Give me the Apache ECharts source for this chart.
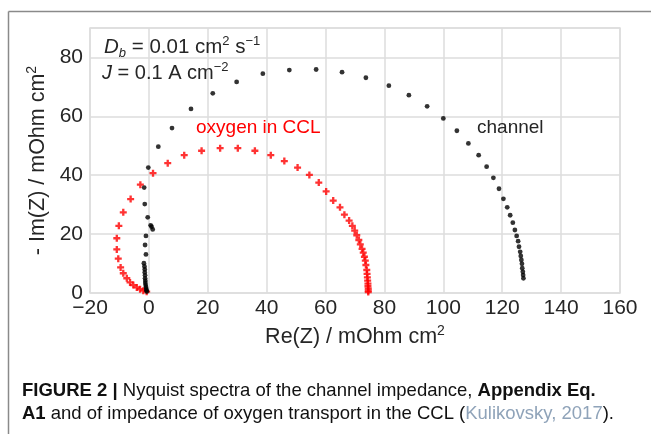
<!DOCTYPE html>
<html><head><meta charset="utf-8">
<script src="https://cdn.jsdelivr.net/npm/echarts@6/dist/echarts.min.js"></script>
<style>html,body{margin:0;padding:0;background:#fff}#c{width:651px;height:434px}</style>
</head><body><div id="c"></div>
<script>
// ---- data ----
const xTickValues = [-20, 0, 20, 40, 60, 80, 100, 120, 140, 160];
const yTickValues = [0, 20, 40, 60, 80];
const yAxisMax = 90;

// channel impedance (black dots)
const channelRe = [-0.7, -0.8, -0.9, -1.0, -1.1, -1.2, -1.2, -1.3, -1.3, -1.4, -1.4, -1.5, -1.7, -1.0, -1.3, -1.0,
  0.9, 1.3, 0.6, -0.4, -1.4, -1.6, -0.2, 3.2, 7.85, 14.3, 21.7, 29.8, 38.7, 47.7, 56.8, 65.6, 73.7, 81.5, 88.3,
  94.5, 100.0, 104.6, 108.5, 112.0, 114.7, 117.0, 118.9, 120.4, 121.7, 122.7, 123.6, 124.3, 124.9, 125.4, 125.7,
  126.1, 126.3, 126.5, 126.7, 126.8, 127.0, 127.1, 127.2];
const channelIm = [0.5, 0.9, 1.4, 2.0, 2.7, 3.4, 4.2, 5.0, 6.0, 7.0, 8.0, 9.0, 10.1, 13.1, 16.3, 19.4,
  22.5, 21.6, 23.0, 25.7, 30.2, 35.8, 42.6, 49.7, 56.0, 62.5, 67.8, 71.7, 74.5, 75.7, 75.9, 75.0, 73.1, 70.4, 67.2,
  63.4, 59.3, 55.1, 50.8, 46.8, 42.9, 39.1, 35.4, 32.0, 29.1, 26.4, 23.9, 21.4, 19.4, 17.6, 15.7,
  14.0, 12.6, 11.2, 9.9, 8.4, 7.2, 6.1, 5.0];

// oxygen transport in the CCL (red plus)
const oxygenRe = [-0.75, -1.9, -3.0, -4.1, -5.3, -6.4, -7.5, -8.7, -9.6, -10.4, -10.9, -10.9, -10.2, -8.7, -6.2,
  -2.9, 1.4, 6.4, 12.0, 17.9, 24.2, 30.2, 36.0, 41.4, 46.0, 50.5, 54.5, 57.7, 60.2, 62.6, 64.9, 66.4, 68.0, 69.1,
  69.9, 70.6, 71.3, 71.8, 72.4, 72.8, 73.2, 73.5, 73.7, 74.0, 74.1, 74.2, 74.3, 74.4, 74.4, 74.5, 74.5, 74.5];
const oxygenIm = [0.44, 0.8, 1.26, 1.9, 2.7, 3.6, 5.0, 6.7, 8.7, 11.65, 14.8, 18.6, 22.8, 27.4, 31.9,
  36.8, 40.7, 44.1, 46.8, 48.3, 49.2, 49.2, 48.3, 46.8, 44.8, 42.6, 40.1, 37.5, 34.5, 31.4, 29.1, 26.6, 24.6, 22.8,
  21.2, 19.6, 18.0, 16.5, 15.0, 13.7, 12.3, 11.0, 9.5, 7.8, 6.5, 5.3, 4.2, 3.2, 2.3, 1.5, 0.8, 0.3];

// ---- chart ----
const chart = echarts.init(document.getElementById('c'), null, {renderer: 'canvas'});
const FONT = 'Liberation Sans';
const INK = '#262626';
const zip = (a, b) => a.map((v, i) => [v, b[i]]);
const plus = 'path://M2,0H4V2H6V4H4V6H2V4H0V2H2Z';
const gridColor = '#dddddd';
function richSet(base, sup) {
  return {
    sup: {fontSize: sup, lineHeight: 12, verticalAlign: 'top', fontFamily: FONT, color: INK, fill: INK},
    sub: {fontSize: sup, lineHeight: 12, verticalAlign: 'bottom', fontFamily: FONT, color: INK, fill: INK, fontStyle: 'italic'},
    it: {fontSize: base, lineHeight: base + 4, fontStyle: 'italic', fontFamily: FONT, color: INK, fill: INK},
    n: {fontSize: base, lineHeight: base + 4, fontFamily: FONT, color: INK, fill: INK}
  };
}

chart.setOption({
  animation: false,
  backgroundColor: '#ffffff',
  grid: {left: 90, right: 31, top: 28, bottom: 141, show: true, borderColor: gridColor, borderWidth: 1.5},
  xAxis: {
    type: 'value', min: xTickValues[0], max: xTickValues[xTickValues.length - 1],
    interval: xTickValues[1] - xTickValues[0],
    axisLine: {show: false}, axisTick: {show: false},
    splitLine: {lineStyle: {color: gridColor, width: 1.5}},
    axisLabel: {fontSize: 21, color: INK, fontFamily: FONT, margin: 5,
      formatter: v => String(v).replace('-', '\u2212')},
    name: '{n|Re(Z) / mOhm cm}{sup|2}', nameLocation: 'middle', nameGap: 25,
    nameTextStyle: {rich: richSet(21.5, 14)}
  },
  yAxis: {
    type: 'value', min: yTickValues[0], max: yAxisMax, interval: yTickValues[1] - yTickValues[0],
    axisLine: {show: false}, axisTick: {show: false},
    splitLine: {lineStyle: {color: gridColor, width: 1.5}},
    axisLabel: {fontSize: 21, color: INK, fontFamily: FONT, margin: 7, showMaxLabel: false,
      formatter: v => (yTickValues.indexOf(v) >= 0 ? String(v) : '')},
    name: '{n|- Im(Z) / mOhm cm}{sup|2}', nameLocation: 'middle', nameGap: 35,
    nameTextStyle: {rich: richSet(21.5, 14)}
  },
  series: [
    {type: 'scatter', name: 'oxygen in CCL', data: zip(oxygenRe, oxygenIm), symbol: plus, symbolSize: 7,
      itemStyle: {color: '#ff0000'}, silent: true, z: 2},
    {type: 'scatter', name: 'channel', data: zip(channelRe, channelIm), symbol: 'circle', symbolSize: 4.8,
      itemStyle: {color: '#000000'}, silent: true, z: 3}
  ],
  graphic: [
    {type: 'line', z: 100, shape: {x1: 8.5, y1: 11.5, x2: 651, y2: 11.5}, style: {stroke: '#8a8a8a', lineWidth: 1.5}},
    {type: 'line', z: 100, shape: {x1: 8.5, y1: 11.5, x2: 8.5, y2: 434}, style: {stroke: '#8a8a8a', lineWidth: 1.5}},
    {type: 'text', z: 100, left: 104, top: 35, style: {
      text: '{it|D}{sub|b}{n| = 0.01 cm}{sup|2}{n| s}{sup|\u22121}', rich: richSet(20.5, 13)}},
    {type: 'text', z: 100, left: 102, top: 61, style: {
      text: '{it|J}{n| = 0.1 A cm}{sup|\u22122}', rich: richSet(20, 13)}},
    {type: 'text', z: 100, left: 196, top: 118, style: {text: 'oxygen in CCL', fill: '#ff0000', fontSize: 19, fontFamily: FONT}},
    {type: 'text', z: 100, left: 477, top: 118, style: {text: 'channel', fill: INK, fontSize: 19, fontFamily: FONT}},
    {type: 'text', z: 100, left: 22, top: 381, style: {
      text: '{b|FIGURE 2 | }{r|Nyquist spectra of the channel impedance, }{b|Appendix Eq.}\n{b|A1}{r| and of impedance of oxygen transport in the CCL (}{l|Kulikovsky, 2017}{r|).}',
      rich: {
        b: {fontSize: 18.5, fontWeight: 'bold', fontFamily: FONT, fill: '#111111', lineHeight: 23},
        r: {fontSize: 18.5, fontFamily: FONT, fill: '#111111', lineHeight: 23},
        l: {fontSize: 18.5, fontFamily: FONT, fill: '#8fa3b9', lineHeight: 23}
      }}}
  ]
});
</script></body></html>
